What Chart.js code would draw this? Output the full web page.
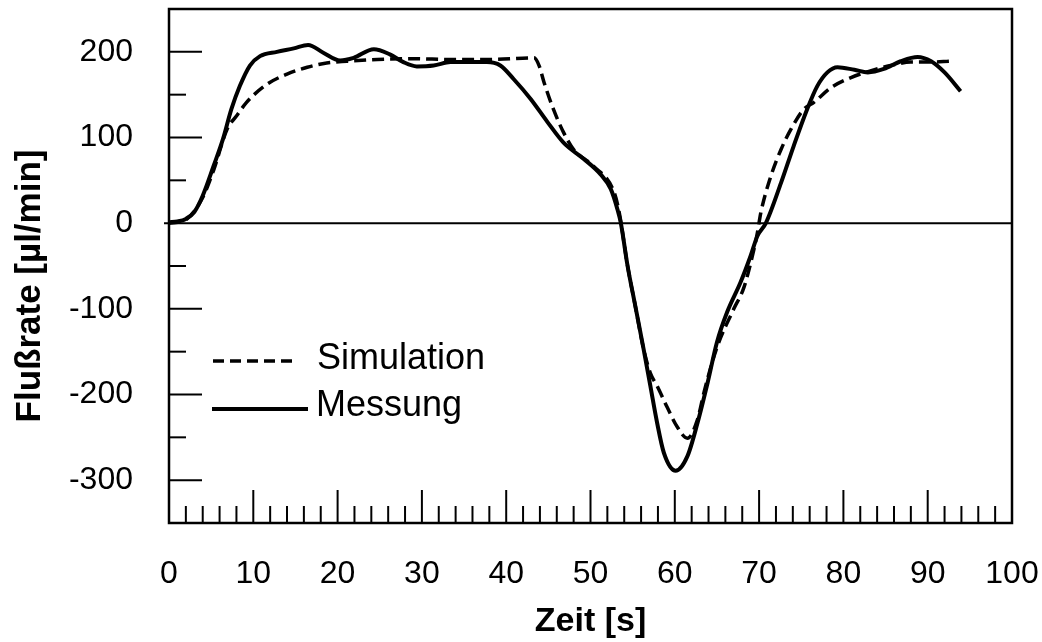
<!DOCTYPE html>
<html><head><meta charset="utf-8">
<script src="https://cdn.jsdelivr.net/npm/chart.js@4.4.1/dist/chart.umd.min.js"></script>
<style>html,body{margin:0;padding:0;background:#fff;}#wrap{width:1042px;height:642px;}</style>
</head><body><div id="wrap"><canvas id="c" width="1042" height="642"></canvas></div>
<script>
const xTickLabels = [0,10,20,30,40,50,60,70,80,90,100];
const yTickLabels = [-300,-200,-100,0,100,200];
const seriesNames = ['Simulation','Messung'];
const xTitle = 'Zeit [s]';
const yTitle = 'Flußrate [µl/min]';

const simTime = [0,2,4,5.3,6.9,8.0,9.2,11.6,14.0,16.4,18.7,21.1,24.7,29.0,33.4,38,43.3,43.9,44.5,45.6,46.8,48.0,50.3,52.8,53.4,54.4,55.3,56.3,57.1,57.9,59.1,60.3,61.5,62.7,63.5,65.0,67.0,68.2,69.4,69.8,70.2,71.4,72.6,73.8,75.3,76.5,78.5,80.9,83.3,85.6,88.0,90.4,92.6];
const simFlow = [0,4,30,62,110,125,141,162,174,182,187,189,191,192,191,191,193,184,164,133,106,86,67,36,13,-50,-96,-147,-175,-190,-215,-238,-251,-229,-196,-145,-100,-75,-30,-11,12,55,86,110,133,141,158,170,178,184,188,188,189];

const mesTime = [0,1,2,3,4,5.3,6.4,7.4,8.4,9.6,10.8,12.8,14.8,16.5,18.3,20.3,21.9,24.3,26.2,27.8,29.4,31.4,33.4,37.7,39.3,40.9,42.9,44.9,46.8,49.2,51.2,52.4,53.2,53.6,54.4,55.3,56.3,57.1,57.9,58.7,60.1,61.5,62.7,63.9,65.0,66.2,67.8,69.0,69.8,70.8,72.6,74.1,75.7,76.9,78.1,79.3,81.3,82.9,84.8,86.8,88.8,90.4,92.0,93.9];
const mesFlow = [1,2,5,13,32,67,98,133,160,184,195,200,204,208,199,190,193,203,197,188,183,184,188,188,184,168,145,118,94,75,57,40,16,0,-50,-96,-147,-190,-233,-268,-289,-272,-233,-186,-139,-104,-69,-38,-15,0,47,90,133,160,176,182,179,176,180,189,194,189,176,154];

const FONT = "'Liberation Sans', Arial, sans-serif";
const toPts = (xs, ys) => xs.map((x, i) => ({x: x, y: ys[i]}));
const zeroPad = s => { s.paddingTop = 0; s.paddingBottom = 0; s.paddingLeft = 0; s.paddingRight = 0; };

const framePlugin = {
  id: 'frame',
  afterDatasetsDraw(chart) {
    const {ctx, chartArea: a, scales: {x, y}} = chart;
    ctx.save();
    ctx.strokeStyle = '#000';
    ctx.lineCap = 'butt';
    ctx.lineWidth = 2;
    const y0 = y.getPixelForValue(0);
    ctx.beginPath(); ctx.moveTo(a.left - 5, y0); ctx.lineTo(a.right, y0); ctx.stroke();
    ctx.lineWidth = 2.5;
    ctx.strokeRect(a.left, a.top, a.right - a.left, a.bottom - a.top);
    ctx.lineWidth = 2;
    for (let v = -350; v <= 250; v += 50) {
      if (v === 0) continue;
      const py = y.getPixelForValue(v);
      const len = (v % 100 === 0) ? 33 : 17;
      ctx.beginPath(); ctx.moveTo(a.left, py); ctx.lineTo(a.left + len, py); ctx.stroke();
    }
    for (let v = 2; v < 100; v += 2) {
      const px = x.getPixelForValue(v);
      const len = (v % 10 === 0) ? 33 : 17;
      ctx.beginPath(); ctx.moveTo(px, a.bottom); ctx.lineTo(px, a.bottom - len); ctx.stroke();
    }
    ctx.restore();
  },
  afterDraw(chart) {
    const ctx = chart.ctx;
    ctx.save();
    ctx.strokeStyle = '#000';
    ctx.fillStyle = '#000';
    ctx.lineWidth = 3.5;
    ctx.setLineDash([11, 6]);
    ctx.beginPath(); ctx.moveTo(213, 361); ctx.lineTo(297, 361); ctx.stroke();
    ctx.setLineDash([]);
    ctx.lineWidth = 4;
    ctx.beginPath(); ctx.moveTo(212, 409); ctx.lineTo(308, 409); ctx.stroke();
    ctx.font = '36px ' + FONT;
    ctx.textBaseline = 'middle';
    ctx.textAlign = 'left';
    ctx.fillText(seriesNames[0], 317, 359);
    ctx.fillText(seriesNames[1], 316, 406);
    // y axis title
    ctx.translate(30, 286);
    ctx.rotate(-Math.PI / 2);
    ctx.font = 'bold 35px ' + FONT;
    ctx.textAlign = 'center';
    ctx.fillText(yTitle, 0, 0);
    ctx.restore();
  }
};

new Chart(document.getElementById('c'), {
  type: 'line',
  data: {
    datasets: [
      {label: seriesNames[0], data: toPts(simTime, simFlow), borderColor: '#000', borderWidth: 3.5,
       borderDash: [12, 6], pointRadius: 0, fill: false, cubicInterpolationMode: 'monotone'},
      {label: seriesNames[1], data: toPts(mesTime, mesFlow), borderColor: '#000', borderWidth: 4,
       pointRadius: 0, fill: false, cubicInterpolationMode: 'monotone'}
    ]
  },
  options: {
    responsive: false,
    animation: false,
    devicePixelRatio: 1,
    layout: {padding: {left: 0, top: 9, right: 30, bottom: 0}},
    plugins: {legend: {display: false}, tooltip: {enabled: false}},
    scales: {
      x: {
        type: 'linear', min: 0, max: 100,
        afterBuildTicks: s => { s.ticks = xTickLabels.map(v => ({value: v})); },
        afterFit: s => { s.height = 119; zeroPad(s); },
        grid: {display: false, drawTicks: false},
        border: {display: false},
        ticks: {color: '#000', font: {family: FONT, size: 32}, padding: 32, maxRotation: 0, autoSkip: false},
        title: {display: true, text: xTitle, color: '#000', font: {family: FONT, size: 34, weight: 'bold'}, padding: {top: 0, bottom: 0}}
      },
      y: {
        type: 'linear', min: -350, max: 250,
        afterBuildTicks: s => { s.ticks = yTickLabels.map(v => ({value: v})); },
        afterFit: s => { s.width = 169; zeroPad(s); },
        grid: {display: false, drawTicks: false},
        border: {display: false},
        ticks: {color: '#000', font: {family: FONT, size: 32}, padding: 36, autoSkip: false},
        title: {display: false}
      }
    }
  },
  plugins: [framePlugin]
});
</script></body></html>
